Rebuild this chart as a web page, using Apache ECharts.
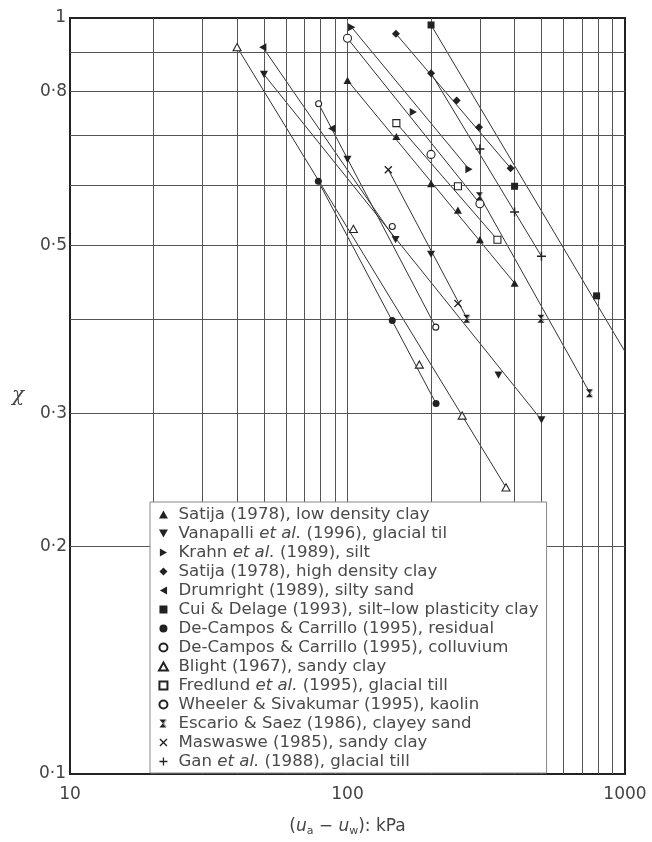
<!DOCTYPE html>
<html><head><meta charset="utf-8">
<script src="https://cdn.jsdelivr.net/npm/echarts@6/dist/echarts.min.js"></script>
<style>html,body{margin:0;padding:0;background:#fff}#c{width:652px;height:842px}</style>
</head><body><div id="c"></div>
<script>
// grid lines
const gridX = [20,30,40,50,60,70,80,90,100,200,300,400,500,600,700,800,900];
const gridY = [0.9,0.8,0.7,0.6,0.5,0.4,0.3,0.2];
const labelledY = [0.8,0.5,0.3,0.2];

// data sets: [suction kPa, chi]
const satijaLow  = [[100,0.827],[150,0.697],[200,0.604],[250,0.557],[300,0.509],[400,0.446]];
const vanapalli  = [[50,0.842],[100,0.65],[149,0.509],[200,0.487],[350,0.337],[500,0.294]];
const krahn      = [[103.5,0.972],[172.7,0.751],[274,0.631]];
const satijaHigh = [[149.5,0.953],[200,0.845],[247.5,0.778],[297.8,0.717],[387,0.633]];
const drumright  = [[49.5,0.915],[87.7,0.714]];
const cui        = [[200,0.979],[400,0.599],[790,0.429]];
const residual   = [[78.5,0.608],[145,0.398],[208.5,0.309]];
const colluvium  = [[78.7,0.77],[145,0.53],[208,0.39]];
const blight     = [[40,0.915],[105,0.526],[181.5,0.348],[259,0.298],[372.5,0.2394]];
const fredlund   = [[150,0.726],[250,0.599],[347,0.509]];
const wheeler    = [[100,0.94],[200,0.66],[300,0.568]];
const escario    = [[270,0.4],[300,0.581],[500,0.4],[748,0.319]];
const maswaswe   = [[140.3,0.63],[250,0.419]];
const gan        = [[300,0.671],[400,0.554],[500,0.484]];

// fitted lines drawn in the reference: [x1,y1,x2,y2]
const fitLines = [
  [100,0.827,400,0.446],
  [50,0.842,500,0.294],
  [103.5,0.972,274,0.631],
  [149.5,0.953,387,0.633],
  [49.5,0.915,149,0.509],
  [200,0.979,1000,0.362],
  [78.5,0.608,208.5,0.309],
  [78.7,0.77,208,0.39],
  [40,0.915,372.5,0.2394],
  [150,0.726,347,0.509],
  [100,0.94,300,0.568],
  [300,0.581,748,0.319],
  [140.3,0.63,270,0.4],
  [200,0.845,500,0.484]
];

const names = [
  'Satija (1978), low density clay',
  'Vanapalli et al. (1996), glacial til',
  'Krahn et al. (1989), silt',
  'Satija (1978), high density clay',
  'Drumright (1989), silty sand',
  'Cui & Delage (1993), silt\u2013low plasticity clay',
  'De-Campos & Carrillo (1995), residual',
  'De-Campos & Carrillo (1995), colluvium',
  'Blight (1967), sandy clay',
  'Fredlund et al. (1995), glacial till',
  'Wheeler & Sivakumar (1995), kaolin',
  'Escario & Saez (1986), clayey sand',
  'Maswaswe (1985), sandy clay',
  'Gan et al. (1988), glacial till'
];
const datasets = [satijaLow,vanapalli,krahn,satijaHigh,drumright,cui,residual,colluvium,blight,fredlund,wheeler,escario,maswaswe,gan];

const INK = '#222';
const TRI_UP = 'path://M5,0 L10,9 L0,9 Z';
const TRI_DN = 'path://M0,0 L10,0 L5,9 Z';
const TRI_RT = 'path://M0,0 L9,5 L0,10 Z';
const TRI_LT = 'path://M9,0 L0,5 L9,10 Z';
const DIAM = 'path://M5,0 L10,5 L5,10 L0,5 Z';
const SQR = 'path://M0,0 L10,0 L10,10 L0,10 Z';
const CIRC = 'path://M0,5 A5,5 0 1,1 10,5 A5,5 0 1,1 0,5 Z';
const symbols = [
  {symbol:TRI_UP, size:8, open:false},
  {symbol:TRI_DN, size:8, open:false},
  {symbol:TRI_RT, size:8, open:false},
  {symbol:DIAM, size:8, open:false},
  {symbol:TRI_LT, size:8, open:false},
  {symbol:SQR, size:7, open:false},
  {symbol:CIRC, size:7, open:false},
  {symbol:CIRC, size:6, open:true},
  {symbol:TRI_UP, size:8, open:true},
  {symbol:SQR, size:7, open:true},
  {symbol:CIRC, size:8, open:true},
  {symbol:'path://M0,0 L10,0 L5,5 Z M0,10 L10,10 L5,5 Z M0,0 L1.5,0 L10,10 L8.5,10 Z M10,0 L8.5,0 L0,10 L1.5,10 Z', size:8, open:false},
  {symbol:'path://M0,1.2 L1.2,0 L5,3.8 L8.8,0 L10,1.2 L6.2,5 L10,8.8 L8.8,10 L5,6.2 L1.2,10 L0,8.8 L3.8,5 Z', size:8, open:false},
  {symbol:'path://M4.2,0 L5.8,0 L5.8,4.2 L10,4.2 L10,5.8 L5.8,5.8 L5.8,10 L4.2,10 L4.2,5.8 L0,5.8 L0,4.2 L4.2,4.2 Z', size:9, open:false}
];

const fmtDot = v => String(v).replace('.', '\u00b7');

const series = [];
fitLines.forEach((l, i) => {
  const s = {
    type: 'line', name: 'fit' + i, data: [[l[0], l[1]], [l[2], l[3]]],
    showSymbol: false, symbol: 'none', silent: true, z: 3,
    lineStyle: {color: '#333', width: 1}, animation: false
  };
  if (i === 0) {
    s.markLine = {
      silent: true, symbol: ['none','none'], animation: false,
      lineStyle: {type: 'solid', color: '#555', width: 1},
      label: {show: false},
      data: gridX.map(v => ({xAxis: v})).concat(gridY.map(v => ({
        yAxis: v,
        label: labelledY.includes(v) ? {show: true, position: 'start', formatter: fmtDot(v), color: '#444', fontSize: 17, fontFamily: 'DejaVu Sans', distance: 3} : {show: false}
      })))
    };
  }
  series.push(s);
});
datasets.forEach((d, i) => {
  const sy = symbols[i];
  series.push({
    type: 'scatter', name: names[i], data: d, symbol: sy.symbol, symbolSize: sy.size,
    symbolKeepAspect: true, z: 5, animation: false,
    itemStyle: sy.open ? {color: '#fff', borderColor: INK, borderWidth: 1.1, opacity: 1} : {color: INK, opacity: 1}
  });
});

const legendFmt = name => {
  const parts = name.split('et al.');
  if (parts.length === 1) return '{n|' + name + '}';
  return '{n|' + parts[0] + '}{i|et al.}{n|' + parts[1] + '}';
};

const FS = 16.6;
const chart = echarts.init(document.getElementById('c'), null, {renderer: 'canvas'});
chart.setOption({
  backgroundColor: '#fff',
  animation: false,
  grid: {left: 70, top: 18, width: 555, height: 762, show: true, borderColor: '#222', borderWidth: 2, backgroundColor: 'transparent'},
  xAxis: {
    type: 'log', logBase: 10, min: 10, max: 1000,
    axisLine: {show: false}, axisTick: {show: false}, splitLine: {show: false},
    axisLabel: {color: '#444', fontSize: 17, fontFamily: 'DejaVu Sans', margin: 12, formatter: v => String(Math.round(v))},
    name: '{p|(}{u|u}{s|a}{p| \u2212 }{u|u}{s|w}{p|): kPa}',
    nameLocation: 'middle', nameGap: 43,
    nameTextStyle: {
      rich: {
        p: {fontSize: 17, color: '#444', fontFamily: 'DejaVu Sans'},
        u: {fontSize: 17, color: '#444', fontFamily: 'DejaVu Sans', fontStyle: 'italic'},
        s: {fontSize: 11, color: '#444', fontFamily: 'DejaVu Sans', padding: [9, 0, 0, 0]}
      }
    }
  },
  yAxis: {
    type: 'log', logBase: 10, min: 0.1, max: 1,
    axisLine: {show: false}, axisTick: {show: false}, splitLine: {show: false},
    axisLabel: {color: '#444', fontSize: 17, fontFamily: 'DejaVu Sans', margin: 4, formatter: v => (v > 0.5 ? '1' : '0\u00b71')},
    name: '\u03c7', nameLocation: 'middle', nameRotate: 0, nameGap: 46,
    nameTextStyle: {fontSize: 20, color: '#444', fontStyle: 'italic', fontFamily: 'DejaVu Serif', padding: [18, 0, 0, 0]}
  },
  legend: {
    data: names, orient: 'vertical', left: 150, top: 502,
    itemWidth: 20, itemHeight: 8, itemGap: 0,
    padding: [3, 8, 2, 8],
    backgroundColor: '#fff', borderColor: '#888', borderWidth: 1,
    selectedMode: false, z: 10, symbolKeepAspect: true,
    formatter: legendFmt,
    textStyle: {
      color: '#4a4a4a', fontSize: FS, fontFamily: 'DejaVu Sans', lineHeight: 19,
      rich: {
        n: {color: '#4a4a4a', fontSize: FS, fontFamily: 'DejaVu Sans', lineHeight: 19},
        i: {color: '#4a4a4a', fontSize: FS, fontFamily: 'DejaVu Sans', fontStyle: 'italic', lineHeight: 19}
      }
    }
  },
  series: series
});
</script>
</body></html>
